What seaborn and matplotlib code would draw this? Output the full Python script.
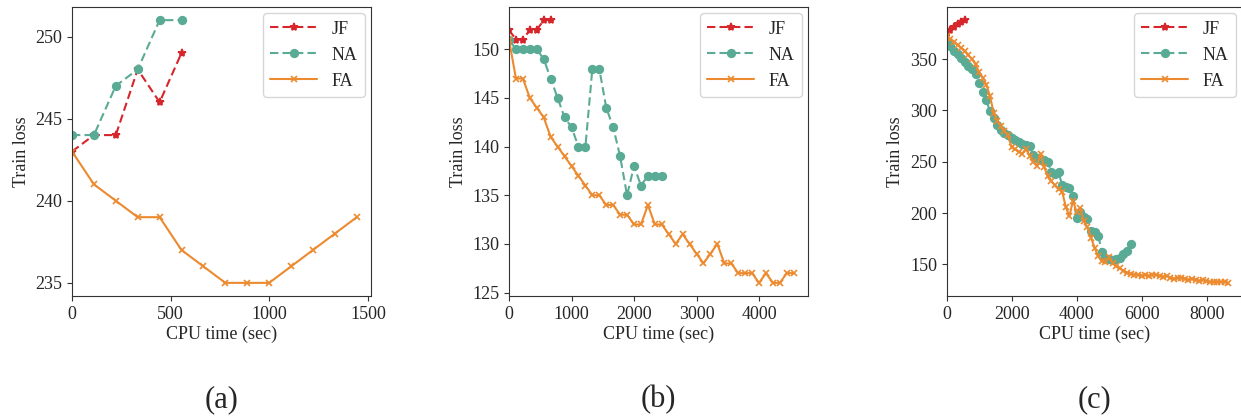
import matplotlib
matplotlib.use("Agg")
import matplotlib.pyplot as plt
import seaborn as sns
import pandas as pd

sns.set_style("ticks")
plt.rcParams['font.family'] = ['Liberation Serif', 'DejaVu Serif']

# ---------------- Panel (a) ----------------
a_jf_t = [0, 111, 222, 333, 444, 555]
a_jf_v = [243, 244, 244, 248, 246, 249]
a_na_t = [0, 111, 222, 333, 444, 555]
a_na_v = [244, 244, 247, 248, 251, 251]
a_fa_t = [0, 111, 222, 333, 444, 555, 666, 777, 888, 999, 1110, 1221, 1332, 1443]
a_fa_v = [243, 241, 240, 239, 239, 237, 236, 235, 235, 235, 236, 237, 238, 239]

# ---------------- Panel (b) ----------------
b_jf_t = [0, 111, 222, 333, 444, 555, 666]
b_jf_v = [152, 151, 151, 152, 152, 153, 153]
b_na_t = [0, 111, 222, 333, 444, 555, 666, 777, 888, 999, 1110, 1221, 1332, 1443,
          1554, 1665, 1776, 1887, 1998, 2109, 2220, 2331, 2442]
b_na_v = [151, 150, 150, 150, 150, 149, 147, 145, 143, 142, 140, 140, 148, 148,
          144, 142, 139, 135, 138, 136, 137, 137, 137]
b_fa_t = [0, 111, 222, 333, 444, 555, 666, 777, 888, 999, 1110, 1221, 1332, 1443,
          1554, 1665, 1776, 1887, 1998, 2109, 2220, 2331, 2442, 2553, 2664, 2775,
          2886, 2997, 3108, 3219, 3330, 3441, 3552, 3663, 3774, 3885, 3996, 4107,
          4218, 4329, 4440, 4551]
b_fa_v = [151, 147, 147, 145, 144, 143, 141, 140, 139, 138, 137, 136, 135, 135,
          134, 134, 133, 133, 132, 132, 134, 132, 132, 131, 130, 131, 130, 129,
          128, 129, 130, 128, 128, 127, 127, 127, 126, 127, 126, 126, 127, 127]

# ---------------- Panel (c) ----------------
c_jf_t = [0, 111, 222, 333, 444, 555]
c_jf_v = [375, 378, 381, 384, 386, 388]
c_na_t = [0, 111, 222, 333, 444, 555, 666, 777, 888, 999, 1110, 1221, 1332, 1443,
          1554, 1665, 1776, 1887, 1998, 2109, 2220, 2331, 2442, 2553, 2664, 2775,
          2886, 2997, 3108, 3219, 3330, 3441, 3552, 3663, 3774, 3885, 3996, 4107,
          4218, 4329, 4440, 4551, 4662, 4773, 4884, 4995, 5106, 5217, 5328, 5439,
          5550, 5661]
c_na_v = [367, 363, 358, 355, 351, 347, 343, 340, 336, 327, 318, 310, 299, 293,
          286, 281, 278, 276, 273, 271, 269, 267, 266, 265, 257, 254, 252, 252,
          250, 240, 238, 240, 227, 225, 224, 217, 195, 201, 196, 194, 183, 182,
          178, 162, 156, 155, 154, 155, 156, 160, 163, 170]
c_fa_t = [0, 111, 222, 333, 444, 555, 666, 777, 888, 999, 1110, 1221, 1332, 1443,
          1554, 1665, 1776, 1887, 1998, 2109, 2220, 2331, 2442, 2553, 2664, 2775,
          2886, 2997, 3108, 3219, 3330, 3441, 3552, 3663, 3774, 3885, 3996, 4107,
          4218, 4329, 4440, 4551, 4662, 4773, 4884, 4995, 5106, 5217, 5328, 5439,
          5550, 5661, 5772, 5883, 5994, 6105, 6216, 6327, 6438, 6549, 6660, 6771,
          6882, 6993, 7104, 7215, 7326, 7437, 7548, 7659, 7770, 7881, 7992, 8103,
          8214, 8325, 8436, 8547, 8658]
c_fa_v = [373, 370, 367, 364, 361, 358, 354, 350, 345, 337, 332, 325, 314, 298,
          290, 285, 280, 276, 264, 262, 260, 258, 262, 256, 250, 246, 258, 245,
          236, 231, 227, 223, 221, 206, 197, 212, 201, 205, 192, 186, 176, 166,
          158, 153, 152, 157, 151, 148, 146, 144, 142, 141,
          140, 140, 139, 140, 139, 140, 140, 139, 138, 139,
          137, 136, 137, 137, 136, 135, 136, 135, 134, 135,
          134, 133, 133, 133, 133, 133, 132]

methods = ["JF", "NA", "FA"]
colors = {"JF": "#d7262b", "NA": "#5aab95", "FA": "#ec8a2f"}
markers = {"JF": "*", "NA": "o", "FA": "x"}
lstyles = {"JF": (0, (4, 2)), "NA": (0, (4, 2)), "FA": "-"}
msizes = {"JF": 6, "NA": 5.5, "FA": 5}

panels = [
    ("(a)", {"JF": (a_jf_t, a_jf_v), "NA": (a_na_t, a_na_v), "FA": (a_fa_t, a_fa_v)},
     [0, 500, 1000, 1500], [235, 240, 245, 250]),
    ("(b)", {"JF": (b_jf_t, b_jf_v), "NA": (b_na_t, b_na_v), "FA": (b_fa_t, b_fa_v)},
     [0, 1000, 2000, 3000, 4000], [125, 130, 135, 140, 145, 150]),
    ("(c)", {"JF": (c_jf_t, c_jf_v), "NA": (c_na_t, c_na_v), "FA": (c_fa_t, c_fa_v)},
     [0, 2000, 4000, 6000, 8000], [150, 200, 250, 300, 350]),
]

W, H = 1241, 420
fig = plt.figure(figsize=(W / 100, H / 100), dpi=100)
lefts = [72, 509, 946.7]
widths = [299, 299, 295.5]
top, bottom = 7, 296

for (label, data, xt, yt), lx, aw in zip(panels, lefts, widths):
    ax = fig.add_axes([lx / W, (H - bottom) / H, aw / W, (bottom - top) / H])
    for m in methods:
        t, v = data[m]
        df = pd.DataFrame({"t": t, "v": v})
        sns.lineplot(data=df, x="t", y="v", color=colors[m], marker=markers[m],
                     linestyle=lstyles[m], markersize=msizes[m], linewidth=1.5,
                     markeredgewidth=1.2, markeredgecolor=colors[m],
                     sort=False, estimator=None, label=m, ax=ax)
    ax.set_xlim(left=0)
    ax.set_xticks(xt)
    ax.set_yticks(yt)
    ax.tick_params(labelsize=13, length=3.5, width=0.8, color="#333333")
    for s in ax.spines.values():
        s.set_visible(True)
        s.set_color("#333333")
        s.set_linewidth(0.8)
    ax.set_xlabel("CPU time (sec)", fontsize=13, labelpad=2)
    ax.set_ylabel("Train loss", fontsize=13, labelpad=4)
    leg = ax.legend(loc="upper right", fontsize=13, handlelength=2.6,
                    borderpad=0.4, labelspacing=0.5, handletextpad=0.8,
                    borderaxespad=0.35)
    ax.text(0.5, -0.36, label, transform=ax.transAxes, ha="center", va="center",
            fontsize=22)

fig.savefig("out.png", dpi=100)
